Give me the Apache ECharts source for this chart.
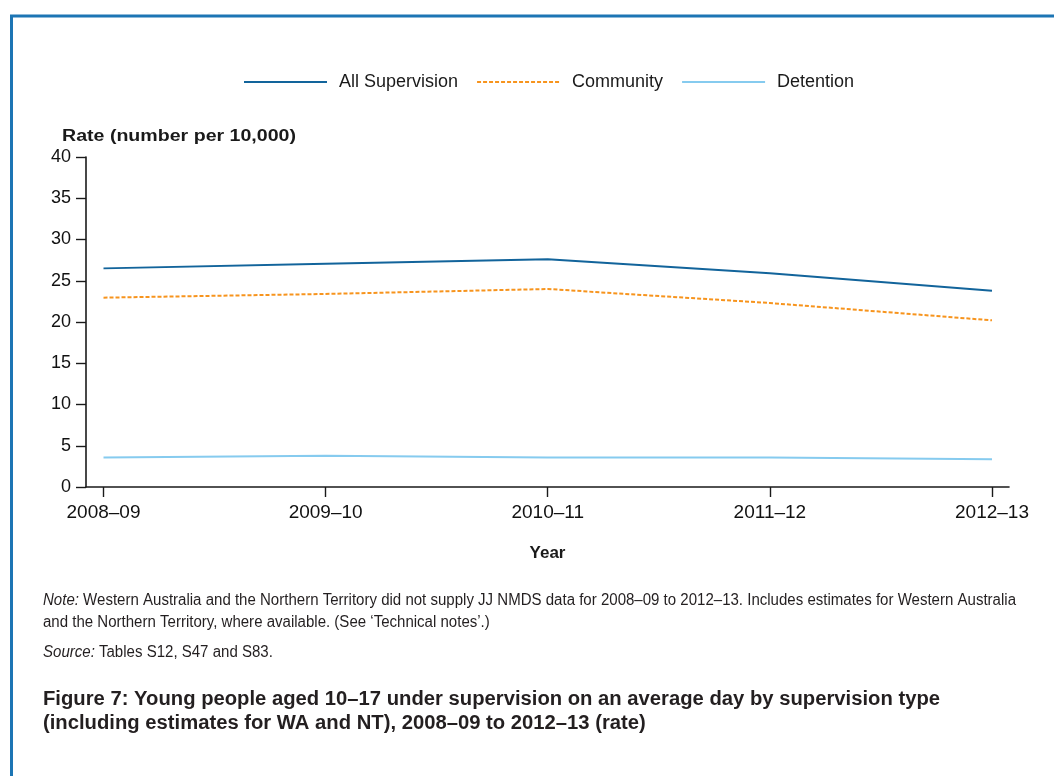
<!DOCTYPE html>
<html>
<head>
<meta charset="utf-8">
<script src="https://cdn.jsdelivr.net/npm/echarts@6/dist/echarts.min.js"></script>
<style>
html,body{margin:0;padding:0;background:#fff;}
#chart{width:1054px;height:776px;}
</style>
</head>
<body>
<div id="chart"></div>
<script>
// ---- data ----
var categories = ['2008–09', '2009–10', '2010–11', '2011–12', '2012–13'];
var allSupervision = [26.5, 27.05, 27.6, 25.9, 23.8];
var community = [22.95, 23.4, 24.0, 22.3, 20.2];
var detention = [3.57, 3.78, 3.57, 3.57, 3.37];
var yTicks = [0, 5, 10, 15, 20, 25, 30, 35, 40];

var noteText = 'Western Australia and the Northern Territory did not supply JJ NMDS data for 2008–09 to 2012–13. Includes estimates for Western Australia';
var noteText2 = 'and the Northern Territory, where available. (See ‘Technical notes’.)';
var sourceText = 'Tables S12, S47 and S83.';
var caption1 = 'Figure 7: Young people aged 10–17 under supervision on an average day by supervision type';
var caption2 = '(including estimates for WA and NT), 2008–09 to 2012–13 (rate)';

function pairs(arr){ return arr.map(function(v,i){ return [i, v]; }); }

var sans = '"Liberation Sans", Arial, sans-serif';

// horizontal compression factor so a regular font mimics the condensed original
var cv = document.createElement('canvas').getContext('2d');
function squeeze(text, font, target){
  cv.font = font;
  return target / cv.measureText(text).width;
}
var noteFont = 'normal 16px ' + sans;
var capFont = 'bold 19.5px ' + sans;
var noteScale = squeeze('Note: ' + noteText, noteFont, 973);
var capScale = squeeze(caption1, capFont, 897);
var rateScale = squeeze('Rate (number per 10,000)', 'bold 16px ' + sans, 234);

var chart = echarts.init(document.getElementById('chart'), null, {renderer:'canvas'});
var axisColor = '#1a1a1a';
var txt = '#231f20';
var richI = { i: { fontStyle: 'italic', fontFamily: sans, fontSize: 16, fill: txt } };
var option = {
  backgroundColor: '#fff',
  animation: false,
  legend: {
    left: 243, top: 73, padding: 0,
    itemWidth: 83, itemHeight: 14, itemGap: 18,
    itemStyle: { opacity: 0 },
    textStyle: { fontFamily: sans, fontSize: 18, color: '#1a1a1a', padding: [0,0,0,7] },
    data: ['All Supervision', 'Community', 'Detention']
  },
  grid: { left: 86, right: 45, top: 157, bottom: 289, containLabel: false },
  xAxis: {
    type: 'value', min: -0.0788, max: 4.0766,
    name: 'Year', nameLocation: 'middle', nameGap: 58,
    nameTextStyle: { fontFamily: sans, fontSize: 17, fontWeight: 'bold', color: '#1a1a1a' },
    axisLine: { show: true, lineStyle: { color: axisColor, width: 1.6 } },
    axisTick: { show: true, length: 10, lineStyle: { color: axisColor, width: 1.4 }, customValues: [0,1,2,3,4] },
    axisLabel: { margin: 16, fontFamily: sans, fontSize: 19, color: '#111', customValues: [0,1,2,3,4],
      formatter: function(v){ return categories[Math.round(v)]; } },
    splitLine: { show: false }
  },
  yAxis: {
    type: 'value', min: 0, max: 40, interval: 5,
    axisLine: { show: true, onZero: false, lineStyle: { color: axisColor, width: 1.6 } },
    axisTick: { show: true, length: 10, lineStyle: { color: axisColor, width: 1.4 } },
    axisLabel: { margin: 15, fontFamily: sans, fontSize: 18, color: '#111',
      formatter: function(v){ return yTicks.indexOf(v) >= 0 ? String(v) : ''; } },
    splitLine: { show: false }
  },
  series: [
    { name: 'All Supervision', type: 'line', data: pairs(allSupervision), symbol: 'none',
      lineStyle: { color: '#12649b', width: 2 }, itemStyle: { color: '#12649b' } },
    { name: 'Community', type: 'line', data: pairs(community), symbol: 'none',
      lineStyle: { color: '#f7941d', width: 2, type: [4, 2] }, itemStyle: { color: '#f7941d' } },
    { name: 'Detention', type: 'line', data: pairs(detention), symbol: 'none',
      lineStyle: { color: '#86cbef', width: 2 }, itemStyle: { color: '#86cbef' } }
  ],
  graphic: [
    { type: 'rect', shape: { x: 11.5, y: 16, width: 1100, height: 900 }, silent: true,
      style: { fill: 'none', stroke: '#1c75b4', lineWidth: 3 } },
    { type: 'text', x: 62, y: 137, scaleX: rateScale,
      style: { text: 'Rate (number per 10,000)', font: 'bold 16px ' + sans, fill: '#1a1a1a', verticalAlign: 'middle' } },
    { type: 'text', x: 43, y: 601, scaleX: noteScale,
      style: { text: '{i|Note:} ' + noteText, font: noteFont, fill: txt, verticalAlign: 'middle', rich: richI } },
    { type: 'text', x: 43, y: 623, scaleX: noteScale,
      style: { text: noteText2, font: noteFont, fill: txt, verticalAlign: 'middle' } },
    { type: 'text', x: 43, y: 653, scaleX: noteScale,
      style: { text: '{i|Source:} ' + sourceText, font: noteFont, fill: txt, verticalAlign: 'middle', rich: richI } },
    { type: 'text', x: 43, y: 700, scaleX: capScale,
      style: { text: caption1, font: capFont, fill: txt, verticalAlign: 'middle' } },
    { type: 'text', x: 43, y: 724, scaleX: capScale,
      style: { text: caption2, font: capFont, fill: txt, verticalAlign: 'middle' } }
  ]
};
chart.setOption(option);
</script>
</body>
</html>
